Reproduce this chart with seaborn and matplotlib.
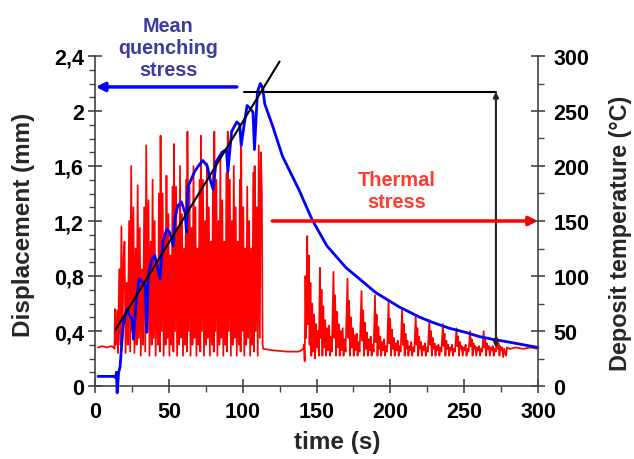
import numpy as np
import pandas as pd
import matplotlib
matplotlib.use("Agg")
import matplotlib.pyplot as plt
from matplotlib.ticker import MultipleLocator, FixedLocator, FixedFormatter
import seaborn as sns

# ---------------- data ----------------
blue_time = [2, 13, 14, 14.5, 15, 16, 17, 19, 21.5, 23, 25, 26, 28, 30, 32, 34, 35, 36,
             38.5, 40.5, 42.5, 44, 46, 48.5, 50.5, 53, 54, 56, 58.5, 61, 62, 63, 65, 67.5,
             70, 73, 76, 78, 80, 82, 86, 89, 90, 92.5, 96, 98, 99, 101, 103, 105, 107, 108,
             110, 112, 113.5, 115, 120, 127, 138, 147, 157, 170, 179, 190, 206, 220, 228,
             240, 251, 260, 269, 280, 290, 300]
blue_disp = [0.07, 0.07, 0.06, 0.10, -0.05, 0.10, 0.14, 0.44, 0.56, 0.52, 0.49, 0.34, 0.63,
             0.78, 0.76, 0.73, 0.39, 0.80, 0.92, 0.95, 0.85, 0.78, 1.05, 1.14, 1.12, 1.02,
             1.21, 1.31, 1.34, 1.26, 1.12, 1.45, 1.50, 1.56, 1.60, 1.64, 1.60, 1.50, 1.43,
             1.63, 1.70, 1.72, 1.56, 1.85, 1.92, 1.90, 1.75, 1.90, 2.04, 2.02, 1.99, 1.72,
             2.14, 2.20, 2.17, 2.05, 1.90, 1.67, 1.43, 1.21, 1.02, 0.86, 0.78, 0.68, 0.575,
             0.50, 0.465, 0.42, 0.39, 0.36, 0.34, 0.32, 0.30, 0.28]

red_phase1 = [
    (2, 0.28), (5, 0.29), (8, 0.28), (11, 0.29), (12.8, 0.28), (13.2, 0.27),
    (13.5, 0.56), (14.2, 0.30), (15.0, 0.55), (15.6, 0.24), (16.4, 0.85), (17.1, 0.30),
    (17.9, 1.16), (18.6, 0.35), (19.4, 0.95), (20.0, 1.05), (20.7, 0.24), (21.5, 0.75),
    (22.2, 0.30), (23.1, 1.20), (23.8, 0.25),
    (24.5, 1.60), (25.2, 0.40), (26.0, 1.30), (26.7, 0.24), (27.5, 1.00), (28.2, 0.30),
    (28.9, 1.46), (29.6, 0.35), (30.3, 1.15), (31.0, 0.22), (31.8, 0.85), (32.5, 0.30),
    (33.3, 1.30), (34.0, 0.25),
    (34.7, 1.75), (35.4, 0.40), (36.2, 1.35), (36.9, 0.22), (37.7, 1.05), (38.4, 0.30),
    (39.0, 1.50), (39.7, 0.35), (40.4, 1.20), (41.1, 0.22), (41.9, 0.90), (42.6, 0.30),
    (43.3, 1.40), (43.9, 0.25),
    (44.4, 1.82), (45.1, 0.40), (45.8, 1.40), (46.5, 0.22), (47.2, 1.10), (47.8, 0.30),
    (48.4, 1.53), (49.0, 0.35), (49.7, 1.25), (50.4, 0.22), (51.1, 0.95), (51.8, 0.30),
    (52.5, 1.45), (53.1, 0.25),
    (53.5, 1.76), (54.2, 0.40), (54.9, 1.45), (55.6, 0.22), (56.3, 1.15), (56.9, 0.30),
    (57.6, 1.60), (58.2, 0.35), (58.9, 1.25), (59.6, 0.22), (60.3, 1.00), (61.0, 0.30),
    (61.7, 1.50), (62.2, 0.25),
    (62.6, 1.85), (63.3, 0.40), (64.0, 1.45), (64.7, 0.22), (65.4, 1.15), (66.0, 0.30),
    (66.7, 1.60), (67.3, 0.35), (68.0, 1.30), (68.7, 0.22), (69.4, 1.00), (70.1, 0.30),
    (70.8, 1.50), (71.3, 0.25),
    (71.7, 1.82), (72.4, 0.40), (73.1, 1.50), (73.8, 0.22), (74.5, 1.20), (75.1, 0.30),
    (75.8, 1.62), (76.4, 0.35), (77.1, 1.30), (77.8, 0.22), (78.5, 1.05), (79.2, 0.30),
    (79.9, 1.55), (80.4, 0.25),
    (80.8, 1.85), (81.5, 0.40), (82.2, 1.50), (82.9, 0.22), (83.6, 1.20), (84.2, 0.30),
    (84.9, 1.65), (85.5, 0.35), (86.2, 1.35), (86.9, 0.22), (87.6, 1.05), (88.3, 0.30),
    (89.0, 1.55), (89.5, 0.25),
    (89.9, 1.85), (90.6, 0.40), (91.3, 1.50), (92.0, 0.22), (92.7, 1.20), (93.3, 0.30),
    (94.0, 1.60), (94.6, 0.35), (95.3, 1.30), (96.0, 0.22), (96.7, 1.05), (97.4, 0.30),
    (98.1, 1.50), (98.6, 0.25),
    (99.0, 1.77), (99.7, 0.40), (100.4, 1.30), (101.1, 0.22), (101.8, 1.00), (102.4, 0.30),
    (103.1, 1.45), (103.7, 0.35), (104.4, 1.20), (105.1, 0.22), (105.8, 1.00), (106.5, 0.30),
    (107.2, 1.55), (107.7, 0.25),
    (108.1, 1.60), (108.8, 0.40), (109.5, 1.30), (110.2, 0.22), (110.9, 1.75), (111.6, 0.35),
    (112.3, 1.70), (113.0, 1.40), (113.5, 0.30), (114.0, 0.27),
    (120, 0.26), (130, 0.25), (138, 0.25), (141.0, 0.27),
]

red_phase2 = [
    (141.5, 0.30), (142.0, 0.18), (142.5, 0.80), (143.0, 0.35), (143.7, 1.09), (144.2, 0.45),
    (144.8, 0.95), (145.3, 0.30), (145.9, 0.75), (146.5, 0.22), (147.1, 0.60), (147.7, 0.25),
    (148.4, 0.52), (149.0, 0.20), (149.7, 0.45), (150.3, 0.28), (151.0, 0.40), (151.6, 0.22),
    (152.3, 0.86), (152.8, 0.35), (153.4, 0.70), (154.0, 0.22), (154.6, 0.58), (155.2, 0.28),
    (155.9, 0.48), (156.5, 0.22), (157.2, 0.42), (157.8, 0.26), (158.5, 0.44), (159.1, 0.22),
    (159.8, 0.36), (160.4, 0.25),
    (161.5, 0.83), (162.0, 0.35), (162.6, 0.66), (163.2, 0.22), (163.8, 0.54), (164.4, 0.28),
    (165.1, 0.45), (165.7, 0.22), (166.4, 0.40), (167.0, 0.26), (167.7, 0.42), (168.3, 0.22),
    (169.0, 0.34), (169.7, 0.25),
    (171.0, 0.78), (171.5, 0.35), (172.1, 0.62), (172.7, 0.22), (173.3, 0.50), (173.9, 0.28),
    (174.6, 0.42), (175.2, 0.22), (175.9, 0.37), (176.5, 0.26), (177.2, 0.38), (177.8, 0.22),
    (178.5, 0.32), (179.2, 0.25),
    (180.5, 0.69), (181.0, 0.33), (181.6, 0.55), (182.2, 0.22), (182.8, 0.46), (183.4, 0.27),
    (184.1, 0.39), (184.7, 0.22), (185.4, 0.34), (186.0, 0.26), (186.7, 0.36), (187.3, 0.22),
    (188.0, 0.30), (188.7, 0.25),
    (189.6, 0.66), (190.1, 0.32), (190.7, 0.52), (191.3, 0.22), (191.9, 0.43), (192.5, 0.27),
    (193.2, 0.36), (193.8, 0.22), (194.5, 0.32), (195.1, 0.26), (195.8, 0.34), (196.4, 0.22),
    (197.1, 0.29), (197.8, 0.25),
    (198.8, 0.62), (199.3, 0.31), (199.9, 0.49), (200.5, 0.22), (201.1, 0.41), (201.7, 0.27),
    (202.4, 0.35), (203.0, 0.22), (203.7, 0.31), (204.3, 0.26), (205.0, 0.33), (205.6, 0.22),
    (206.3, 0.29), (207.0, 0.25),
    (208.0, 0.56), (208.5, 0.30), (209.1, 0.45), (209.7, 0.22), (210.3, 0.38), (210.9, 0.27),
    (211.6, 0.33), (212.2, 0.22), (212.9, 0.29), (213.5, 0.26), (214.2, 0.32), (214.8, 0.22),
    (215.5, 0.28), (216.2, 0.25),
    (217.2, 0.51), (217.7, 0.30), (218.3, 0.42), (218.9, 0.22), (219.5, 0.36), (220.1, 0.27),
    (220.8, 0.32), (221.4, 0.22), (222.1, 0.29), (222.7, 0.26), (223.4, 0.31), (224.0, 0.22),
    (224.7, 0.28), (225.4, 0.25),
    (226.4, 0.48), (226.9, 0.30), (227.5, 0.40), (228.1, 0.22), (228.7, 0.35), (229.3, 0.27),
    (230.0, 0.31), (230.6, 0.22), (231.3, 0.29), (231.9, 0.26), (232.6, 0.30), (233.2, 0.22),
    (233.9, 0.28), (234.6, 0.25),
    (235.6, 0.45), (236.1, 0.29), (236.7, 0.38), (237.3, 0.22), (237.9, 0.33), (238.5, 0.27),
    (239.2, 0.30), (239.8, 0.22), (240.5, 0.28), (241.1, 0.26), (241.8, 0.30), (242.4, 0.22),
    (243.1, 0.27), (243.8, 0.25),
    (244.8, 0.42), (245.3, 0.29), (245.9, 0.36), (246.5, 0.22), (247.1, 0.32), (247.7, 0.27),
    (248.4, 0.29), (249.0, 0.22), (249.7, 0.28), (250.3, 0.26), (251.0, 0.30), (251.6, 0.22),
    (252.3, 0.27), (253.0, 0.25),
    (254.0, 0.40), (254.5, 0.29), (255.1, 0.34), (255.7, 0.22), (256.3, 0.31), (256.9, 0.27),
    (257.6, 0.29), (258.2, 0.22), (258.9, 0.28), (259.5, 0.26), (260.2, 0.29), (260.8, 0.22),
    (261.5, 0.27), (262.2, 0.25),
    (263.2, 0.40), (263.7, 0.28), (264.3, 0.34), (264.9, 0.22), (265.5, 0.31), (266.1, 0.27),
    (266.8, 0.29), (267.4, 0.22), (268.1, 0.28), (268.7, 0.26), (269.4, 0.29), (270.0, 0.22),
    (270.7, 0.27), (271.4, 0.25),
    (272.2, 0.35), (272.7, 0.27), (273.3, 0.31), (273.9, 0.22), (274.5, 0.29), (275.1, 0.26),
    (275.8, 0.28), (276.4, 0.21), (277.1, 0.27), (277.7, 0.24), (278.4, 0.22), (279.0, 0.28),
    (281, 0.27), (285, 0.28), (290, 0.27), (295, 0.28), (300, 0.27),
]

fit_time = [14, 125]
fit_disp = [0.41, 2.36]

left_ticks = [0, 0.4, 0.8, 1.2, 1.6, 2.0, 2.4]
left_tick_labels = ["0", "0,4", "0,8", "1,2", "1,6", "2", "2,4"]
right_ticks = [0, 50, 100, 150, 200, 250, 300]
x_ticks = [0, 50, 100, 150, 200, 250, 300]

# ---------------- figure ----------------
sns.set_theme(style="white")
plt.rcParams['font.family'] = ['Liberation Sans', 'DejaVu Sans']
plt.rcParams['font.weight'] = 'bold'
plt.rcParams['axes.labelweight'] = 'bold'

fig = plt.figure(figsize=(6.34, 4.60), dpi=100)
ax = fig.add_axes([95 / 634, 73 / 460, 443 / 634, 330 / 460])

red_pts = red_phase1 + red_phase2
red_df = pd.DataFrame({"time": [p[0] for p in red_pts], "disp": [p[1] for p in red_pts]})
blue_df = pd.DataFrame({"time": blue_time, "disp": blue_disp})
fit_df = pd.DataFrame({"time": fit_time, "disp": fit_disp})

sns.lineplot(data=red_df, x="time", y="disp", color="#ff0000", lw=1.25,
             estimator=None, sort=False, ax=ax, zorder=2)
sns.lineplot(data=blue_df, x="time", y="disp", color="#0000ff", lw=2.0,
             estimator=None, sort=False, ax=ax, zorder=3, clip_on=False)
sns.lineplot(data=fit_df, x="time", y="disp", color="black", lw=1.5,
             estimator=None, sort=False, ax=ax, zorder=4)

ax.set_xlim(0, 300)
ax.set_ylim(0, 2.4)

spine_c = "#444444"
for s in ["top", "right"]:
    ax.spines[s].set_visible(False)
for s in ["left", "bottom"]:
    ax.spines[s].set_color(spine_c)
    ax.spines[s].set_linewidth(1.2)

ax.yaxis.set_major_locator(FixedLocator(left_ticks))
ax.yaxis.set_major_formatter(FixedFormatter(left_tick_labels))
ax.yaxis.set_minor_locator(MultipleLocator(0.1))
ax.xaxis.set_major_locator(FixedLocator(x_ticks))
ax.xaxis.set_minor_locator(MultipleLocator(25))

ax.tick_params(axis="both", which="major", direction="inout", length=10, width=1.2,
               color=spine_c, labelsize=15.5, labelcolor="black", left=True, bottom=True)
ax.tick_params(axis="y", which="major", pad=3)
ax.tick_params(axis="x", which="major", pad=6)
ax.tick_params(axis="both", which="minor", direction="out", length=4, width=1.0,
               color=spine_c, left=True, bottom=True)

twin = ax.twinx()
twin.set_ylim(0, 300)
for s in ["top", "left", "bottom"]:
    twin.spines[s].set_visible(False)
twin.spines["right"].set_color(spine_c)
twin.spines["right"].set_linewidth(1.2)
twin.yaxis.set_major_locator(FixedLocator(right_ticks))
twin.yaxis.set_minor_locator(MultipleLocator(25))
twin.tick_params(axis="y", which="major", direction="inout", length=10, width=1.2,
                 color=spine_c, labelsize=15.5, labelcolor="black", right=True, left=False, pad=6)
twin.tick_params(axis="y", which="minor", direction="out", length=4, width=1.0,
                 color=spine_c, right=True, left=False)

for lab in ax.get_xticklabels() + ax.get_yticklabels() + twin.get_yticklabels():
    lab.set_fontweight("bold")

ax.set_xlabel("time (s)", fontsize=17.5, fontweight="bold", va="center", ha="center")
ax.xaxis.set_label_coords((337 - 95) / 443, (387 - 443) / 330)
ax.set_ylabel("Displacement (mm)", fontsize=17.5, fontweight="bold", va="center", ha="center")
ax.yaxis.set_label_coords((23 - 95) / 443, (387 - 225) / 330)
twin.set_ylabel("Deposit temperature (°C)", fontsize=16.8, fontweight="bold", va="center",
                ha="center", rotation=90)
twin.yaxis.set_label_coords((620 - 95) / 443, (387 - 233) / 330)

# annotations
ax.plot([101, 271.5], [2.14, 2.14], color="black", lw=1.5, zorder=4)
ax.annotate("", xy=(271.5, 0.28), xytext=(271.5, 2.14),
            arrowprops=dict(arrowstyle="<|-|>", color="#222222", lw=1.5,
                            mutation_scale=8, shrinkA=0, shrinkB=0), zorder=5)
ax.annotate("", xy=(0.5, 2.175), xytext=(96, 2.175), annotation_clip=False,
            arrowprops=dict(arrowstyle="-|>", color="#0000ff", lw=2.5,
                            mutation_scale=13, shrinkA=0, shrinkB=0), zorder=5)
ax.annotate("", xy=(300, 1.2), xytext=(120, 1.2), annotation_clip=False,
            arrowprops=dict(arrowstyle="-|>", color="#ff0000", lw=2.5,
                            mutation_scale=13, shrinkA=0, shrinkB=0), zorder=5)

ax.text(49.4, 2.46, "Mean\nquenching\nstress", color="#3b3ba0", fontsize=14.2,
        fontweight="bold", ha="center", va="center", linespacing=1.2)
ax.text(204.5, 1.425, "Thermal\nstress", color="#ff3b2f", fontsize=14.4,
        fontweight="bold", ha="center", va="center", linespacing=1.2)

fig.savefig("out.png", dpi=100)
